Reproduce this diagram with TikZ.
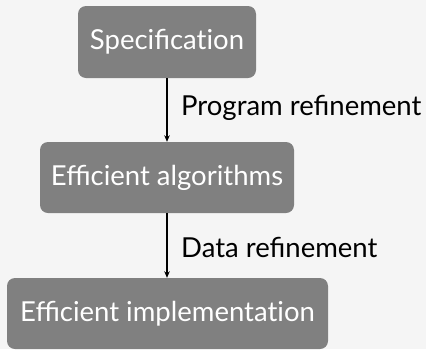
\documentclass[tikz,border=0pt]{standalone}
\usepackage{fontspec}
\setmainfont{Lato}
\usetikzlibrary{arrows.meta}
\definecolor{bg}{HTML}{F5F5F5}
\definecolor{boxgray}{HTML}{808080}
\newcommand{\tibreak}{t\kern0pt i}
\tikzset{
  stagebox/.style={fill=boxgray, rounded corners=8pt, text=white, inner sep=0pt, font=\fontsize{27.5}{30}\selectfont},
  refarrow/.style={draw=black, line width=1.1pt, -{Stealth[length=6.5pt,width=5.5pt]}},
  reflabel/.style={anchor=west, inner sep=0pt, text=black, font=\fontsize{27.5}{30}\selectfont}
}
\begin{document}
\begin{tikzpicture}[x=1pt,y=-1pt]
  \fill[bg] (0,0) rectangle (426,349);
  \useasboundingbox (0,0) rectangle (426,349);
  \node[stagebox, minimum width=178pt, minimum height=72pt] (spec) at (167,42) {Specifica\tibreak on};
  \node[stagebox, minimum width=254pt, minimum height=71pt] (alg) at (167,177.5) {Efficient algorithms};
  \node[stagebox, minimum width=321pt, minimum height=71pt] (impl) at (167.5,313.5) {Efficient implementa\tibreak on};
  \draw[refarrow] (spec.south -| 167,0) -- (alg.north -| 167,0);
  \draw[refarrow] (alg.south -| 167,0) -- (impl.north -| 167,0);
  \node[reflabel] (l1) at (181,108) {Program refinement};
  \node[reflabel] (l2) at (181,247) {Data refinement};
\end{tikzpicture}
\end{document}
